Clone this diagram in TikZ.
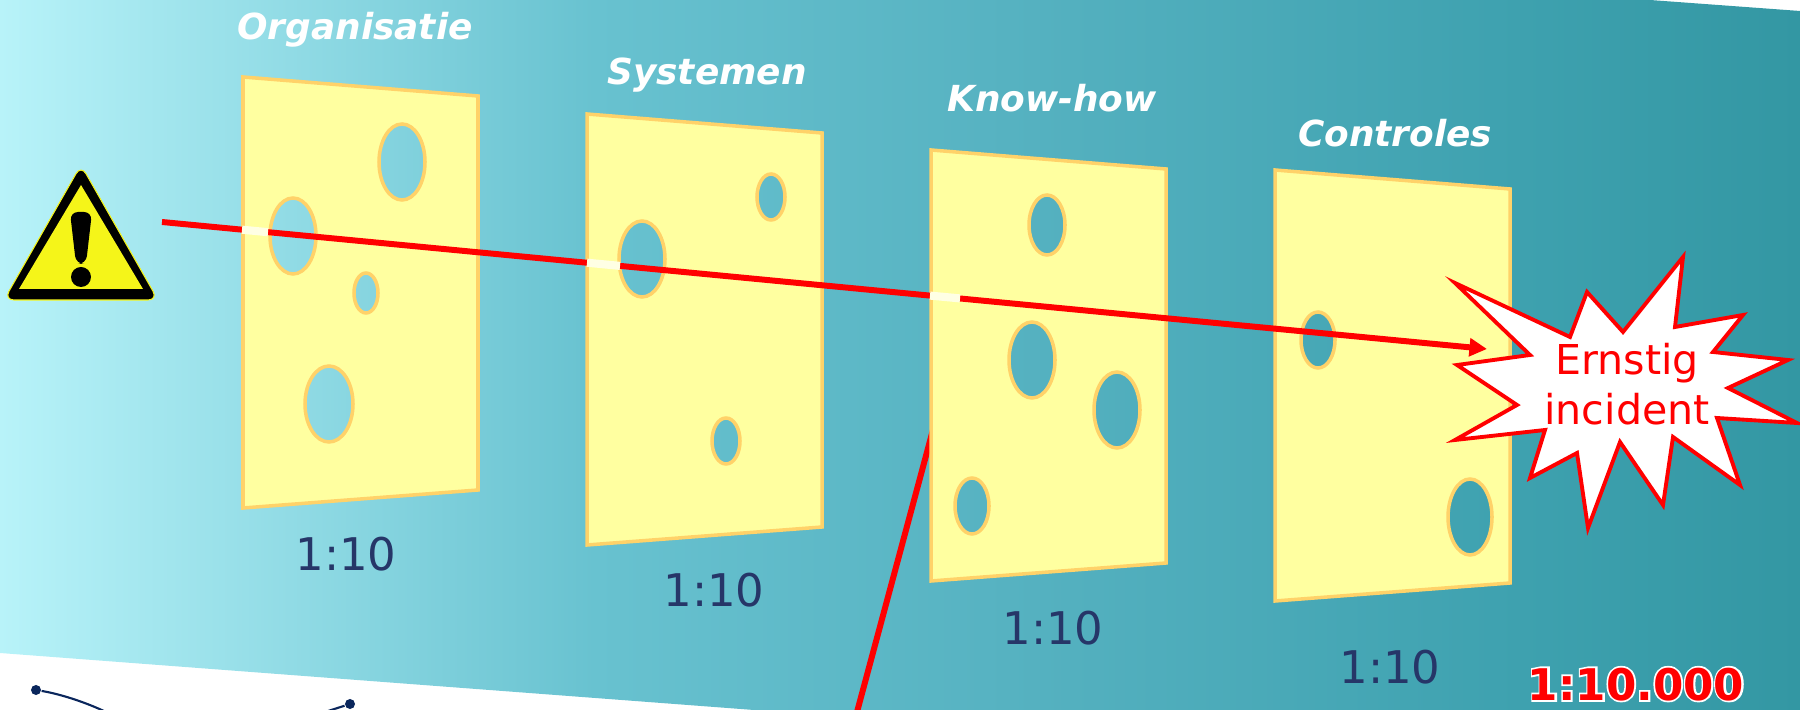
\documentclass[tikz,border=0pt]{standalone}
\usepackage{fontspec}
\setmainfont{DejaVu Sans}
\setsansfont{DejaVu Sans}
\newfontfamily\haloface[FakeBold=8]{DejaVu Sans Bold}
\usetikzlibrary{arrows.meta}

\definecolor{SkyLight}{RGB}{184,243,249}
\definecolor{SkyMid}{RGB}{104,194,208}
\definecolor{SeaMid}{RGB}{86,178,193}
\definecolor{SeaDark}{RGB}{63,162,176}
\definecolor{SeaDeep}{RGB}{51,151,163}
\definecolor{CheeseFill}{RGB}{255,255,160}
\definecolor{CheeseRim}{RGB}{255,210,105}
\definecolor{RatioNavy}{RGB}{38,54,104}
\definecolor{HazardYellow}{RGB}{245,245,25}
\definecolor{AlarmRed}{RGB}{255,0,0}
\definecolor{DotNavy}{RGB}{10,38,92}
\definecolor{GapWhite}{RGB}{255,255,228}

% the shading's middle half (25bp to 75bp) is stretched over the path
\pgfdeclarehorizontalshading{seashade}{100bp}{color(0bp)=(SkyLight); color(25bp)=(SkyLight); color(41.5bp)=(SkyMid); color(53bp)=(SeaMid); color(66.5bp)=(SeaDark); color(75bp)=(SeaDeep); color(100bp)=(SeaDeep)}

\tikzset{
  seabg/.style={shading=seashade},
  slice/.style={fill=CheeseFill,draw=CheeseRim,line width=1pt,even odd rule},
  layertitle/.style={anchor=base,text=white,font=\sffamily\bfseries\itshape\fontsize{10.2}{12}\selectfont},
  ratio/.style={anchor=base,text=RatioNavy,font=\sffamily\fontsize{12.8}{15}\selectfont},
  bigratio/.style={anchor=base,font=\sffamily\bfseries\fontsize{12.4}{15}\selectfont},
  halo/.style={anchor=base,text=white,font=\haloface\fontsize{12.4}{15}\selectfont},
  hazardline/.style={draw=AlarmRed,line width=1.7pt},
  hazardarrow/.style={hazardline,-{Triangle[length=5pt,width=5pt]}},
  gapmark/.style={draw=GapWhite,line width=2.3pt},
  burst/.style={fill=white,draw=AlarmRed,line width=1.1pt,line join=miter},
  burstlabel/.style={align=center,text=AlarmRed,font=\sffamily\fontsize{11.7}{14.2}\selectfont},
  dotnode/.style={circle,fill=DotNavy,inner sep=0pt,minimum size=1mm},
  dotwire/.style={draw=DotNavy,line width=0.6pt}
}

\begin{document}
\begin{tikzpicture}[x=0.01cm,y=-0.01cm]
\clip (0,0) rectangle (1800,710);
\shade[seabg] (0,0) -- (1650,0) -- (1800,11) -- (1800,710) -- (754,710) -- (0,653) -- cycle;

\node[dotnode] (dotA) at (36,690) {};
\node[dotnode] (dotB) at (350,704) {};
\coordinate (tailA) at (106,712);
\coordinate (tailB) at (325,712);
\draw[dotwire] (dotA) .. controls (60,694) and (85,702) .. (tailA);
\draw[dotwire] (dotB) -- (tailB);

% second trajectory, running out below the third layer
\coordinate (breach) at (941,400);
\coordinate (exit) at (857,712);
\draw[hazardline] (breach) -- (exit);

% the four slices with their holes
\path[slice] (243,77) -- (478,96) -- (478,490) -- (243,508) -- cycle
  (402,162) ellipse [x radius=23,y radius=38]
  (293,236) ellipse [x radius=23,y radius=38]
  (366,293) ellipse [x radius=12,y radius=20]
  (329,404) ellipse [x radius=24,y radius=38];
\path[slice] (587,114) -- (822,133) -- (822,527) -- (587,545) -- cycle
  (642,259) ellipse [x radius=23,y radius=38]
  (771,197) ellipse [x radius=14,y radius=23]
  (726,441) ellipse [x radius=14,y radius=23];
\path[slice] (931,150) -- (1166,169) -- (1166,563) -- (931,581) -- cycle
  (1047,225) ellipse [x radius=18,y radius=30]
  (1032,360) ellipse [x radius=23,y radius=38]
  (1117,410) ellipse [x radius=23,y radius=38]
  (972,506) ellipse [x radius=17,y radius=28];
\path[slice] (1275,170) -- (1510,189) -- (1510,583) -- (1275,601) -- cycle
  (1318,340) ellipse [x radius=17,y radius=28]
  (1470,517) ellipse [x radius=22,y radius=38];

\node[layertitle] (org) at (355,40) {Organisatie};
\node[layertitle] (sys) at (707,85) {Systemen};
\node[layertitle] (know) at (1052,112) {Know-how};
\node[layertitle] (ctrl) at (1395,147) {Controles};

\node[ratio] (r1) at (346,571) {1:10};
\node[ratio] (r2) at (714,607) {1:10};
\node[ratio] (r3) at (1053,645) {1:10};
\node[ratio] (r4) at (1390,683) {1:10};

% warning sign
\fill[black,draw=HazardYellow,line width=0.3pt,rounded corners=1mm] (81,165) -- (158,300) -- (4,300) -- cycle;
\fill[HazardYellow] (81,185) -- (143,289) -- (19,289) -- cycle;
\fill[black,rounded corners=0.8mm] (70,212) -- (92,212) -- (86,264) -- (76,264) -- cycle;
\fill[black] (81,277) circle [radius=10];

\coordinate (hazard) at (162,222);
\coordinate (impact) at (1487,349);
\draw[hazardarrow] (hazard) -- (impact);
\draw[gapmark] (242,229.7) -- (268,232.2);
\draw[gapmark] (587,262.7) -- (620,265.9);
\draw[gapmark] (930,295.6) -- (960,298.4);

% explosion
\path[burst] (1455,283) -- (1570,337) -- (1587,292) -- (1623,332) -- (1683,257) -- (1675,327)
  -- (1743,315) -- (1713,352) -- (1788,360) -- (1728,388) -- (1797,423) -- (1717,418)
  -- (1740,485) -- (1673,437) -- (1663,505) -- (1620,442) -- (1588,528) -- (1577,453)
  -- (1530,478) -- (1545,430) -- (1455,440) -- (1517,405) -- (1457,365) -- (1530,355) -- cycle;
\node[burstlabel] (incident) at (1627,384) {Ernstig\\incident};

\node[halo] (totalhalo) at (1636,700) {1:10.000};
\node[bigratio,text=AlarmRed] (total) at (1636,700) {1:10.000};
\end{tikzpicture}
\end{document}
